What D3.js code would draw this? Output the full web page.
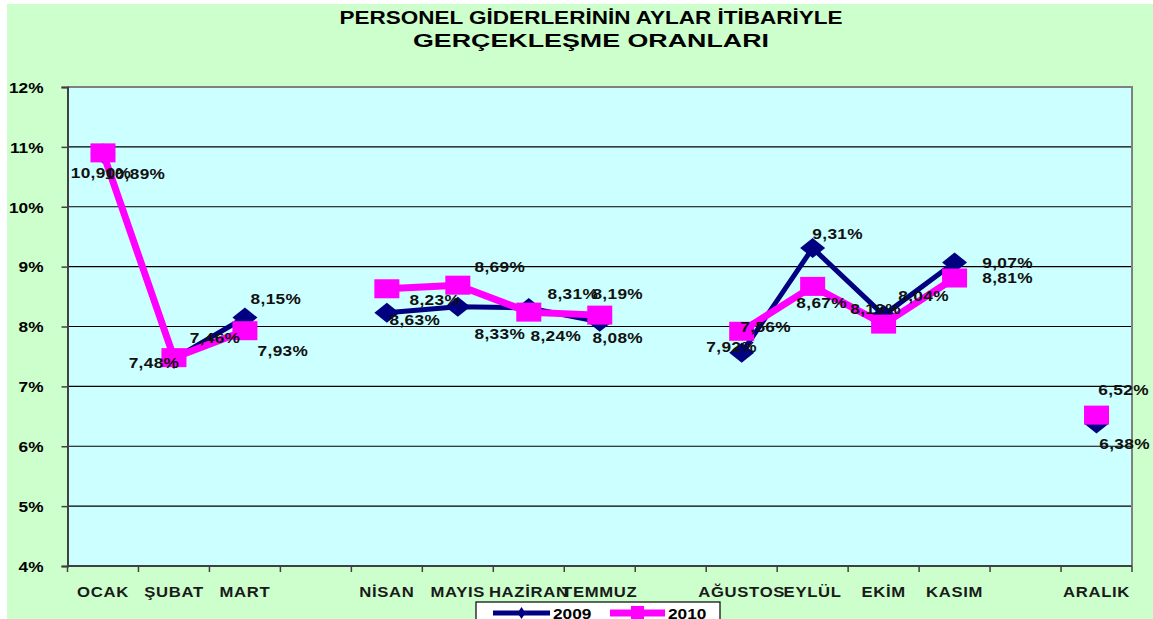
<!DOCTYPE html>
<html>
<head>
<meta charset="utf-8">
<script src="https://cdn.jsdelivr.net/npm/d3@7"></script>
<style>
html,body{margin:0;padding:0;background:#fff;}
svg{display:block;}
text{font-family:"Liberation Sans",Arial,sans-serif;font-weight:bold;}
</style>
</head>
<body>
<script>
// ---- data ----
const categories = ["OCAK","ŞUBAT","MART","","NİSAN","MAYIS","HAZİRAN","TEMMUZ","","AĞUSTOS","EYLÜL","EKİM","KASIM","","ARALIK"];
const values2009 = [10.89, 7.46, 8.15, null, 8.23, 8.33, 8.31, 8.08, null, 7.56, 9.31, 8.19, 9.07, null, 6.38];
const values2010 = [10.90, 7.48, 7.93, null, 8.63, 8.69, 8.24, 8.19, null, 7.92, 8.67, 8.04, 8.81, null, 6.52];
const yTicks = [4,5,6,7,8,9,10,11,12];
const seriesNames = ["2009","2010"];
const titleLines = ["PERSONEL GİDERLERİNİN AYLAR İTİBARİYLE","GERÇEKLEŞME ORANLARI"];

// label offsets (styling, relative to point)
const labelOff2009 = [[32,20],[41,-21],[31,-19],null,[48,-13],[42,27],[44,-14],[18,16],null,[24,-26],[25,-14],[-8,-7],[53,0],null,[28,20]];
const labelOff2010 = [[-2,20],[-20,5],[38,20],null,[28,31],[42,-19],[27,23],[18,-22],null,[-10,15],[9,16],[40,-29],[53,0],null,[27,-26]];

const W = 1153, H = 619;
const SX = 1.15; // horizontal stretch of the reference's glyphs
const svg = d3.select("body").append("svg").attr("width", W).attr("height", H);

// background
svg.append("rect").attr("x",7).attr("y",4).attr("width",W-7).attr("height",H-4).attr("fill","#CCFFCC");

const plot = {left:67.5, right:1132, top:87, bottom:566};
const x = d3.scaleBand().domain(d3.range(categories.length)).range([plot.left, plot.right]).paddingInner(0).paddingOuter(0);
const y = d3.scaleLinear().domain([4,12]).range([plot.bottom, plot.top]);
const cx = i => x(i) + x.bandwidth()/2;
const tr = (px,py) => `translate(${px},${py}) scale(${SX},1)`;

svg.append("rect").attr("x",plot.left).attr("y",plot.top).attr("width",plot.right-plot.left).attr("height",plot.bottom-plot.top).attr("fill","#CCFFFF");

// gridlines
svg.append("g").selectAll("line").data(yTicks.filter(t=>t>4 && t<12)).join("line")
  .attr("x1",plot.left).attr("x2",plot.right).attr("y1",d=>y(d)).attr("y2",d=>y(d))
  .attr("stroke","#000").attr("stroke-width",1.2);

// plot border top/right
svg.append("path").attr("d",`M${plot.left},${plot.top}H${plot.right}V${plot.bottom}`)
  .attr("fill","none").attr("stroke","#808080").attr("stroke-width",2);

// y axis
const yAxis = d3.axisLeft(y).tickValues(yTicks).tickSize(6).tickFormat(d=>d+"%");
const gy = svg.append("g").attr("transform",`translate(${plot.left},0)`).call(yAxis);
gy.select(".domain").attr("stroke","#404040").attr("stroke-width",2);
gy.selectAll(".tick line").attr("stroke","#404040").attr("stroke-width",1.5);
gy.selectAll(".tick text").attr("x",0).attr("transform",tr(-24,0)).attr("font-size",15).attr("fill","#000")
  .attr("text-anchor","end").attr("dy","0.35em");

// x axis (ticks at band boundaries)
const gx = svg.append("g").attr("transform",`translate(0,${plot.bottom})`);
gx.append("line").attr("x1",plot.left).attr("x2",plot.right).attr("stroke","#404040").attr("stroke-width",2);
const bounds = d3.range(categories.length+1).map(i => i<categories.length ? x(i) : plot.right);
gx.selectAll("line.tk").data(bounds).join("line").attr("class","tk")
  .attr("x1",d=>d).attr("x2",d=>d).attr("y1",0).attr("y2",6).attr("stroke","#404040").attr("stroke-width",1.5);
gx.selectAll("text").data(categories).join("text")
  .attr("transform",(d,i)=>tr(cx(i),31)).attr("text-anchor","middle")
  .attr("font-size",14.5).style("letter-spacing","0.6px").attr("fill","#1a1a1a").text(d=>d);

// title
svg.append("g").selectAll("text").data(titleLines).join("text")
  .attr("x",591).attr("y",(d,i)=>24+i*23).attr("text-anchor","middle")
  .attr("font-size",18).attr("fill","#000")
  .attr("textLength",(d,i)=> i===0 ? 503 : 356).attr("lengthAdjust","spacingAndGlyphs")
  .text(d=>d);

// lines
const lineGen = d3.line().defined(d=>d.v!==null).x(d=>cx(d.i)).y(d=>y(d.v));
const s09 = values2009.map((v,i)=>({v,i}));
const s10 = values2010.map((v,i)=>({v,i}));

svg.append("path").datum(s09).attr("d",lineGen).attr("fill","none").attr("stroke","#000080").attr("stroke-width",5).attr("stroke-linejoin","round");
const diamond = (cxv,cyv,w,h)=>`M${cxv},${cyv-h/2}L${cxv+w/2},${cyv}L${cxv},${cyv+h/2}L${cxv-w/2},${cyv}Z`;
svg.append("g").selectAll("path").data(s09.filter(d=>d.v!==null)).join("path")
  .attr("d",d=>diamond(cx(d.i),y(d.v),25,20)).attr("fill","#000080");

svg.append("path").datum(s10).attr("d",lineGen).attr("fill","none").attr("stroke","#FF00FF").attr("stroke-width",7).attr("stroke-linejoin","round");
svg.append("g").selectAll("rect").data(s10.filter(d=>d.v!==null)).join("rect")
  .attr("x",d=>cx(d.i)-12.5).attr("y",d=>y(d.v)-9.5).attr("width",25).attr("height",19).attr("fill","#FF00FF");

// data labels
const fmt = v => v.toFixed(2).replace(".",",")+"%";
function labels(series, offs){
  svg.append("g").selectAll("text").data(series.filter(d=>d.v!==null)).join("text")
    .attr("transform",d=>tr(cx(d.i)+offs[d.i][0], y(d.v)+offs[d.i][1]))
    .attr("dy","0.36em").attr("text-anchor","middle").attr("font-size",15)
    .style("letter-spacing","0.3px").attr("fill","#111").text(d=>fmt(d.v));
}
labels(s09, labelOff2009);
labels(s10, labelOff2010);

// legend
const lg = svg.append("g");
lg.append("rect").attr("x",476).attr("y",602).attr("width",244).attr("height",30).attr("fill","#fff").attr("stroke","#000").attr("stroke-width",1.2);
lg.append("line").attr("x1",493).attr("x2",550).attr("y1",613).attr("y2",613).attr("stroke","#000080").attr("stroke-width",5);
lg.append("path").attr("d",diamond(521.5,613,8,12)).attr("fill","#000080");
lg.append("text").attr("transform",tr(553,619)).attr("font-size",15).attr("fill","#000").text(seriesNames[0]);
lg.append("line").attr("x1",610).attr("x2",665).attr("y1",613).attr("y2",613).attr("stroke","#FF00FF").attr("stroke-width",7);
lg.append("rect").attr("x",631).attr("y",606).attr("width",13).attr("height",13).attr("fill","#FF00FF");
lg.append("text").attr("transform",tr(668,619)).attr("font-size",15).attr("fill","#000").text(seriesNames[1]);
</script>
</body>
</html>
